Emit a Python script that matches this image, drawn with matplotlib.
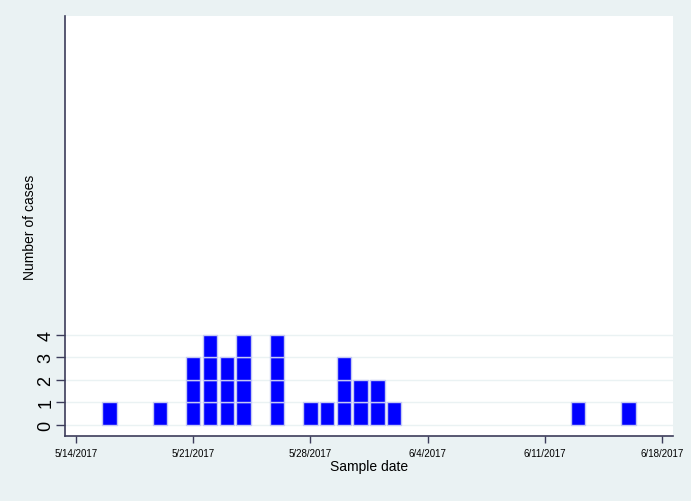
import matplotlib
matplotlib.use("Agg")
import matplotlib.pyplot as plt
import matplotlib.dates as mdates
from datetime import datetime, timedelta

plt.rcParams['font.family'] = ['Liberation Sans', 'DejaVu Sans']

# Data
sample_dates = ["2017-05-16", "2017-05-19", "2017-05-21", "2017-05-22", "2017-05-23",
                "2017-05-24", "2017-05-26", "2017-05-28", "2017-05-29", "2017-05-30",
                "2017-05-31", "2017-06-01", "2017-06-02", "2017-06-13", "2017-06-16"]
case_counts = [1, 1, 3, 4, 3, 4, 4, 1, 1, 3, 2, 2, 1, 1, 1]
x_ticks = ["2017-05-14", "2017-05-21", "2017-05-28", "2017-06-04", "2017-06-11", "2017-06-18"]
x_tick_labels = ["5/14/2017", "5/21/2017", "5/28/2017", "6/4/2017", "6/11/2017", "6/18/2017"]
y_ticks = [0, 1, 2, 3, 4]

bg = '#EAF2F3'
fig = plt.figure(figsize=(6.91, 5.02), dpi=100, facecolor=bg)
ax = fig.add_axes([65/691, 1-437/502, (673-65)/691, (437-17)/502])
ax.set_facecolor('white')

dts = [datetime.strptime(d, "%Y-%m-%d") for d in sample_dates]
maxc = max(case_counts)
for level in range(maxc):
    xs = [d for d, c in zip(dts, case_counts) if c > level]
    ax.bar(xs, [1]*len(xs), bottom=level, width=0.86, color='#0000FF',
           edgecolor='#C4C8F4', linewidth=1.0, zorder=3, align='center')

start = datetime(2017, 5, 14)
ax.set_xlim(start - timedelta(days=0.66), start + timedelta(days=35.66))
ax.set_ylim(-0.5, 18.2)

ax.set_xticks([datetime.strptime(d, "%Y-%m-%d") for d in x_ticks])
ax.set_xticklabels(x_tick_labels, fontsize=7)
ax.set_yticks(y_ticks)
ax.set_yticklabels([str(v) for v in y_ticks], fontsize=13, rotation=90, va='center')

for v in y_ticks:
    ax.axhline(v, color='#EAF2F3', linewidth=1.0, zorder=1)

for s in ['top', 'right']:
    ax.spines[s].set_visible(False)
for s in ['left', 'bottom']:
    ax.spines[s].set_color('#3C3C5A')
    ax.spines[s].set_linewidth(1.2)
ax.tick_params(axis='both', colors='#3C3C5A', width=1.0, labelcolor='#000000')
ax.tick_params(axis='x', pad=4, length=5)
ax.tick_params(axis='y', pad=1, length=6.5)

ax.set_xlabel("Sample date", fontsize=10, labelpad=0.5)
ax.set_ylabel("Number of cases", fontsize=10)
ax.yaxis.set_label_coords((37 - 65) / 608, 0.5)

fig.savefig("out.png", dpi=100, facecolor=bg)
